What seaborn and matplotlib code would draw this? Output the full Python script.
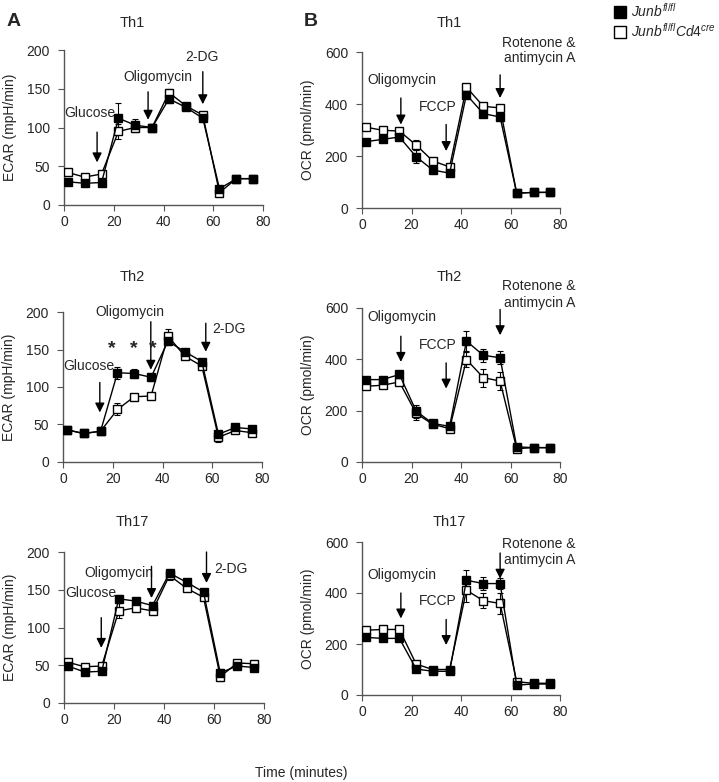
import matplotlib
matplotlib.use("Agg")
import matplotlib.pyplot as plt
from matplotlib.lines import Line2D
import seaborn as sns

# measurement times (minutes)
time_min = [1.5, 8.3, 15.1, 21.9, 28.6, 35.4, 42.2, 49.0, 55.8, 62.5, 69.3, 76.1]

# ECAR (mpH/min): Junb fl/fl (filled) and Junb fl/fl Cd4cre (open)
ecar_th1_fl = [30, 28, 29, 112, 103, 100, 137, 126, 112, 21, 34, 34]
ecar_th1_fl_err = [2, 2, 2, 20, 8, 4, 5, 4, 3, 3, 2, 2]
ecar_th1_cre = [42, 36, 40, 95, 100, 100, 145, 128, 116, 16, 34, 34]
ecar_th1_cre_err = [3, 2, 2, 10, 6, 5, 5, 3, 3, 5, 2, 2]

ecar_th2_fl = [43, 38, 41, 119, 118, 113, 161, 147, 134, 37, 46, 44]
ecar_th2_fl_err = [3, 2, 2, 8, 6, 5, 5, 3, 3, 4, 3, 3]
ecar_th2_cre = [43, 38, 41, 70, 87, 88, 168, 141, 128, 33, 42, 39]
ecar_th2_cre_err = [3, 2, 2, 8, 4, 3, 10, 4, 3, 6, 3, 3]

ecar_th17_fl = [49, 41, 42, 138, 135, 129, 172, 160, 147, 40, 49, 47]
ecar_th17_fl_err = [4, 3, 3, 5, 4, 4, 4, 3, 3, 5, 3, 3]
ecar_th17_cre = [54, 48, 49, 122, 126, 122, 169, 152, 140, 35, 53, 52]
ecar_th17_cre_err = [4, 3, 3, 10, 5, 4, 6, 3, 3, 6, 3, 3]

# OCR (pmol/min)
ocr_th1_fl = [255, 264, 273, 197, 146, 134, 436, 363, 350, 57, 60, 60]
ocr_th1_fl_err = [8, 8, 10, 25, 12, 8, 10, 10, 10, 5, 5, 5]
ocr_th1_cre = [311, 299, 296, 242, 181, 158, 465, 391, 385, 57, 60, 60]
ocr_th1_cre_err = [10, 8, 8, 20, 10, 8, 10, 8, 8, 5, 5, 5]

ocr_th2_fl = [321, 321, 341, 198, 150, 139, 471, 416, 406, 59, 56, 56]
ocr_th2_fl_err = [10, 10, 10, 25, 15, 10, 40, 25, 25, 8, 5, 5]
ocr_th2_cre = [295, 299, 312, 189, 147, 130, 399, 329, 315, 52, 56, 56]
ocr_th2_cre_err = [10, 8, 10, 25, 15, 10, 30, 35, 35, 8, 5, 5]

ocr_th17_fl = [226, 222, 222, 102, 93, 93, 450, 437, 437, 39, 43, 43]
ocr_th17_fl_err = [10, 8, 8, 8, 5, 5, 40, 25, 20, 5, 5, 5]
ocr_th17_cre = [254, 257, 257, 121, 100, 100, 411, 370, 359, 52, 46, 46]
ocr_th17_cre_err = [10, 8, 8, 8, 5, 5, 45, 30, 40, 5, 5, 5]

subsets = ["Th1", "Th2", "Th17"]

sns.set_style("ticks")
plt.rcParams["font.family"] = ["Liberation Sans", "DejaVu Sans"]
plt.rcParams["mathtext.fontset"] = "custom"
plt.rcParams["mathtext.it"] = "Liberation Sans:italic"
plt.rcParams["mathtext.rm"] = "Liberation Sans"

W, H = 719, 782
fig = plt.figure(figsize=(W / 100, H / 100), dpi=100)


def px_axes(x0, x1, ytop, ybot):
    return fig.add_axes([x0 / W, 1 - ybot / H, (x1 - x0) / W, (ybot - ytop) / H])


def draw(ax, fl, fl_err, cre, cre_err):
    for vals, err, fc in [(cre, cre_err, "white"), (fl, fl_err, "black")]:
        ax.errorbar(time_min, vals, yerr=err, fmt="none", ecolor="black",
                    elinewidth=0.8, capsize=2, capthick=0.8, zorder=2)
        sns.lineplot(x=time_min, y=vals, ax=ax, color="black", marker="s",
                     markersize=6, markerfacecolor=fc, markeredgecolor="black",
                     markeredgewidth=1, linewidth=1, zorder=3)


def style(ax, ymax, ystep, label, label_x):
    ax.set_xlim(0, 80)
    ax.set_ylim(0, ymax)
    ax.set_xticks(range(0, 81, 20))
    ax.set_yticks(range(0, ymax + 1, ystep))
    ax.tick_params(labelsize=10, length=4, width=0.8, color="#555555")
    ax.tick_params(axis="y", pad=6)
    for s in ["left", "bottom"]:
        ax.spines[s].set_color("#555555")
        ax.spines[s].set_linewidth(1)
    sns.despine(ax=ax)
    ax.set_ylabel(label, fontsize=10)
    ax.set_xlabel("")
    ax.yaxis.set_label_coords(label_x, 0.5)


def arrow(ax, x, y_from, y_to):
    ax.annotate("", xy=(x, y_to), xytext=(x, y_from),
                arrowprops=dict(arrowstyle="-|>", color="black", lw=1,
                                mutation_scale=14, shrinkA=0, shrinkB=0))


ecar_data = [
    (ecar_th1_fl, ecar_th1_fl_err, ecar_th1_cre, ecar_th1_cre_err),
    (ecar_th2_fl, ecar_th2_fl_err, ecar_th2_cre, ecar_th2_cre_err),
    (ecar_th17_fl, ecar_th17_fl_err, ecar_th17_cre, ecar_th17_cre_err),
]
ocr_data = [
    (ocr_th1_fl, ocr_th1_fl_err, ocr_th1_cre, ocr_th1_cre_err),
    (ocr_th2_fl, ocr_th2_fl_err, ocr_th2_cre, ocr_th2_cre_err),
    (ocr_th17_fl, ocr_th17_fl_err, ocr_th17_cre, ocr_th17_cre_err),
]

a_boxes = [(64, 263, 50, 205), (63, 262, 312, 462), (64, 264, 552, 703)]
b_boxes = [(362, 560, 52, 208), (362, 560, 308, 462), (362, 560, 542, 695)]
title_y = [23, 277, 522]

ecar_axes, ocr_axes = [], []
for i in range(3):
    ax = px_axes(*a_boxes[i])
    draw(ax, *ecar_data[i])
    style(ax, 200, 50, "ECAR (mpH/min)", -0.235)
    ecar_axes.append(ax)
    ax = px_axes(*b_boxes[i])
    draw(ax, *ocr_data[i])
    style(ax, 600, 200, "OCR (pmol/min)", -0.235)
    ocr_axes.append(ax)
    fig.text(132 / W, 1 - title_y[i] / H, subsets[i], ha="center", va="center", fontsize=10.5)
    fig.text(449 / W, 1 - title_y[i] / H, subsets[i], ha="center", va="center", fontsize=10.5)

# ECAR injections
ax = ecar_axes[0]
ax.text(10.5, 119, "Glucose", ha="center", va="center", fontsize=10)
arrow(ax, 13.3, 94, 55)
ax.text(37.8, 165, "Oligomycin", ha="center", va="center", fontsize=10)
arrow(ax, 33.8, 146, 110)
ax.text(55.5, 191, "2-DG", ha="center", va="center", fontsize=10)
arrow(ax, 55.8, 172, 130)

ax = ecar_axes[1]
ax.text(10.5, 128, "Glucose", ha="center", va="center", fontsize=10)
arrow(ax, 14.8, 106, 66)
ax.text(26.9, 200, "Oligomycin", ha="center", va="center", fontsize=10)
arrow(ax, 35.3, 187, 123)
ax.text(60, 177, "2-DG", ha="left", va="center", fontsize=10)
arrow(ax, 57.4, 185, 147)
for xs in [19.5, 28.3, 36]:
    ax.text(xs, 151, "*", ha="center", va="center", fontsize=14, fontweight="bold")

ax = ecar_axes[2]
ax.text(10.9, 146, "Glucose", ha="center", va="center", fontsize=10)
arrow(ax, 14.9, 113, 73)
ax.text(22, 172, "Oligomycin", ha="center", va="center", fontsize=10)
arrow(ax, 35, 181, 139)
ax.text(60, 177, "2-DG", ha="left", va="center", fontsize=10)
arrow(ax, 57, 200, 159)

# OCR injections
ocr_ann = [
    (493, (423, 321), 389, (321, 219), (633, 578), (512, 423)),
    (563, (490, 390), 455, (386, 286), (685, 620), (594, 494)),
    (469, (400, 300), 369, (296, 196), (593, 531), (557, 456)),
]
for ax, (oy, oarr, fy, farr, ry, rarr) in zip(ocr_axes, ocr_ann):
    ax.text(16.1, oy, "Oligomycin", ha="center", va="center", fontsize=10)
    arrow(ax, 15.7, *oarr)
    ax.text(30.5, fy, "FCCP", ha="center", va="center", fontsize=10)
    arrow(ax, 34, *farr)
    ax.text(71.6, ry[0], "Rotenone &", ha="center", va="center", fontsize=10)
    ax.text(71.6, ry[1], "antimycin A", ha="center", va="center", fontsize=10)
    arrow(ax, 55.8, *rarr)

fig.text(14 / W, 1 - 21 / H, "A", ha="center", va="center", fontsize=14, fontweight="bold")
fig.text(311 / W, 1 - 21 / H, "B", ha="center", va="center", fontsize=14, fontweight="bold")
fig.text(301 / W, 1 - 773 / H, "Time (minutes)", ha="center", va="center", fontsize=10)

handles = [
    Line2D([], [], ls="none", marker="s", markersize=9, markerfacecolor="black", markeredgecolor="black"),
    Line2D([], [], ls="none", marker="s", markersize=9, markerfacecolor="white", markeredgecolor="black"),
]
labels = [r"$\mathit{Junb}^{\mathit{fl/fl}}$", r"$\mathit{Junb}^{\mathit{fl/fl}}\mathit{Cd4}^{\mathit{cre}}$"]
fig.legend(handles, labels, loc="upper left", bbox_to_anchor=(606 / W, 1.005), frameon=False,
           fontsize=10, handletextpad=0.2, labelspacing=0.15, handlelength=1.2, borderaxespad=0.0)

fig.savefig("out.png", dpi=100)
